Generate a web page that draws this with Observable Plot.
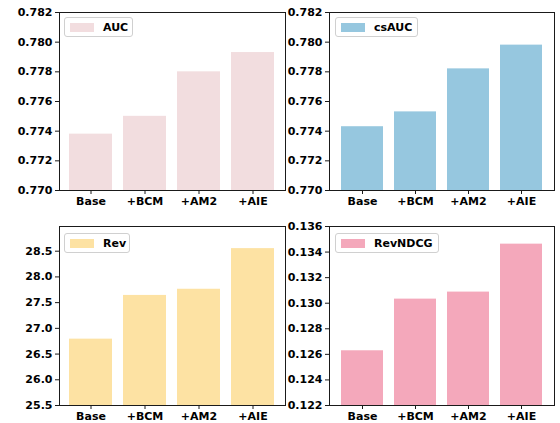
<!DOCTYPE html>
<html>
<head>
<meta charset="utf-8">
<script src="https://cdn.jsdelivr.net/npm/d3@7"></script>
<script src="https://cdn.jsdelivr.net/npm/@observablehq/plot@0.6"></script>
<style>
  html, body { margin: 0; padding: 0; background: white; }
  #root { position: relative; width: 560px; height: 423px; overflow: hidden; font-family: "DejaVu Sans", sans-serif; }
  .panel { position: absolute; }
  .legend { position: absolute; box-sizing: border-box; border: 1px solid #d0d0d0; border-radius: 3px;
            background: rgba(255,255,255,0.85); font: bold 11px "DejaVu Sans", sans-serif; color: #000; }
  .legend .sw { position: absolute; left: 5px; top: 5px; width: 24px; height: 9px; }
  .legend .lb { position: absolute; left: 38px; top: 3px; line-height: 13px; white-space: nowrap; }
</style>
</head>
<body>
<div id="root"></div>
<script>
const categories = ["Base", "+BCM", "+AM2", "+AIE"];

const aucValues = [0.7738, 0.7750, 0.7780, 0.7793];
const csaucValues = [0.7743, 0.7753, 0.7782, 0.7798];
const revValues = [26.79, 27.64, 27.76, 28.55];
const revndcgValues = [0.12628, 0.13032, 0.13087, 0.13462];

const aucTicks = [0.770, 0.772, 0.774, 0.776, 0.778, 0.780, 0.782];
const revTicks = [25.5, 26.0, 26.5, 27.0, 27.5, 28.0, 28.5];
const revndcgTicks = [0.122, 0.124, 0.126, 0.128, 0.130, 0.132, 0.134, 0.136];

const panels = [
  {name: "AUC", values: aucValues, domain: [0.770, 0.782], ticks: aucTicks, fmt: ".3f", color: "#f2dddf",
   left: 0, top: 0, width: 286, height: 218, ml: 59, mr: 1, mt: 12, mb: 28,
   legend: {x: 64, y: 17, w: 69, h: 20}},
  {name: "csAUC", values: csaucValues, domain: [0.770, 0.782], ticks: aucTicks, fmt: ".3f", color: "#96c7df",
   left: 286, top: 0, width: 274, height: 218, ml: 43, mr: 6, mt: 12, mb: 28,
   legend: {x: 335, y: 17, w: 83, h: 20}},
  {name: "Rev", values: revValues, domain: [25.5, 28.98], ticks: revTicks, fmt: ".1f", color: "#fde2a3",
   left: 0, top: 218, width: 286, height: 205, ml: 59, mr: 1, mt: 8, mb: 18,
   legend: {x: 64, y: 233, w: 66, h: 20}},
  {name: "RevNDCG", values: revndcgValues, domain: [0.122, 0.136], ticks: revndcgTicks, fmt: ".3f", color: "#f4a8bb",
   left: 286, top: 218, width: 274, height: 205, ml: 43, mr: 6, mt: 8, mb: 18,
   legend: {x: 335, y: 233, w: 104, h: 20}}
];

const root = document.getElementById("root");

for (const p of panels) {
  const data = categories.map((c, i) => ({cat: c, value: p.values[i]}));
  const chart = Plot.plot({
    width: p.width,
    height: p.height,
    marginLeft: p.ml, marginRight: p.mr, marginTop: p.mt, marginBottom: p.mb,
    style: {background: "transparent", fontFamily: "DejaVu Sans, sans-serif", fontSize: "11px", fontWeight: "bold", color: "#000"},
    x: {domain: categories, paddingInner: 0.2, paddingOuter: 0.19, align: 0.5, label: null},
    y: {domain: p.domain, label: null},
    marks: [
      Plot.barY(data, {x: "cat", y1: p.domain[0], y2: "value", fill: p.color, inset: 0}),
      Plot.frame({stroke: "#1a1a1a", strokeWidth: 1}),
      Plot.axisY({ticks: p.ticks, tickFormat: d3.format(p.fmt), tickSize: 4, tickPadding: 3, label: null, stroke: "#1a1a1a", fill: "#000"}),
      Plot.axisX({tickSize: 4, tickPadding: 3, label: null, stroke: "#1a1a1a", fill: "#000"})
    ]
  });
  chart.classList.add("panel");
  chart.style.left = p.left + "px";
  chart.style.top = p.top + "px";
  root.appendChild(chart);

  const lg = document.createElement("div");
  lg.className = "legend";
  lg.style.left = p.legend.x + "px";
  lg.style.top = p.legend.y + "px";
  lg.style.width = p.legend.w + "px";
  lg.style.height = p.legend.h + "px";
  const sw = document.createElement("div");
  sw.className = "sw";
  sw.style.background = p.color;
  const lb = document.createElement("div");
  lb.className = "lb";
  lb.textContent = p.name;
  lg.appendChild(sw);
  lg.appendChild(lb);
  root.appendChild(lg);
}
</script>
</body>
</html>
